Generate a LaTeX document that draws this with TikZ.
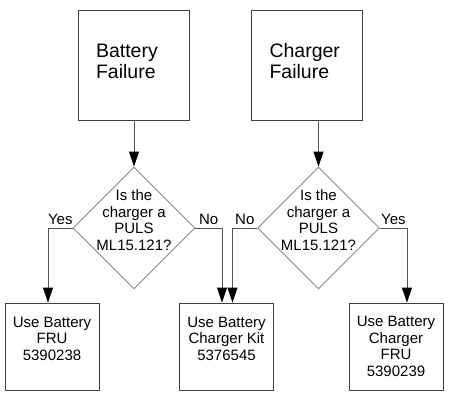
\documentclass[tikz,border=0pt]{standalone}
\usepackage{fontspec}
\setmainfont{Liberation Sans}
\usetikzlibrary{shapes.geometric,arrows.meta,calc}
\definecolor{boxline}{HTML}{404040}
\definecolor{diamline}{HTML}{8A8A8A}
\definecolor{conn}{HTML}{555555}
\begin{document}
\begin{tikzpicture}[x=1pt,y=-1pt,
  startbox/.style={draw=boxline,line width=0.9pt,rectangle,minimum width=111pt,minimum height=110pt,inner xsep=18pt,inner ysep=0pt,text width=75pt,align=left,text depth=29pt,font=\fontsize{19.5}{21}\selectfont},
  decision/.style={draw=diamline,line width=0.9pt,diamond,minimum size=122pt,inner sep=0pt},
  dtext/.style={align=center,font=\fontsize{15}{16.5}\selectfont,inner sep=0pt,yshift=8pt},
  endbox/.style={draw=boxline,line width=0.9pt,rectangle,minimum width=94pt,minimum height=87pt,inner sep=0pt,align=center,font=\fontsize{15}{16.5}\selectfont},
  arr/.style={draw=conn,line width=0.9pt,-{Triangle[length=15pt,width=10pt,color=black]}},
  lbl/.style={font=\fontsize{15}{16.5}\selectfont,inner sep=2.5pt,text=black}
]
\useasboundingbox (0,0) rectangle (455,410);

\node[startbox] (bf) at (133.5,65) {Battery\\Failure};
\node[startbox] (cf) at (307,65) {Charger\\Failure};

\node[decision,label={[dtext]center:{Is the\\charger a\\PULS\\ML15.121?}}] (d1) at (134,228) {};
\node[decision,label={[dtext]center:{Is the\\charger a\\PULS\\ML15.121?}}] (d2) at (318.5,228) {};

\node[endbox,text depth=16pt] (r1) at (52,346.5) {Use Battery\\FRU\\5390238};
\node[endbox,text depth=16pt] (r2) at (226.5,346.5) {Use Battery\\Charger Kit\\5376545};
\node[endbox,text depth=0pt] (r3) at (396,346.5) {Use Battery\\Charger\\FRU\\5390239};

\draw[arr] (bf.south -| d1.north) -- (d1.north);
\draw[arr] (cf.south -| d2.north) -- (d2.north);
\draw[arr] (d1.west) -| node[lbl,pos=0.25,above]{Yes} ([xshift=-4pt]r1.north);
\draw[arr] (d1.east) -| node[lbl,pos=0.25,above]{No} ([xshift=-4.5pt]r2.north);
\draw[arr] (d2.west) -| node[lbl,pos=0.25,above]{No} ([xshift=6pt]r2.north);
\draw[arr] (d2.east) -| node[lbl,pos=0.25,above]{Yes} ([xshift=11pt]r3.north);
\end{tikzpicture}
\end{document}
